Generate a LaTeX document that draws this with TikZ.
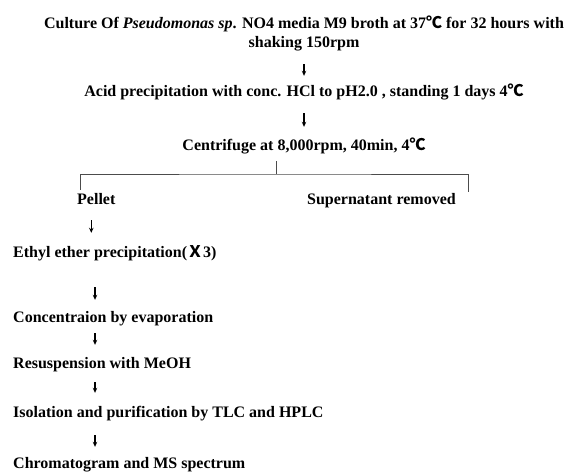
\documentclass[tikz,border=0pt]{standalone}
\usepackage{fontspec}
\setmainfont{Liberation Serif}
\newfontfamily\cjk{Noto Sans CJK SC}
\usetikzlibrary{arrows.meta}
\begin{document}
\begin{tikzpicture}[x=1pt, y=-1pt, every node/.style={font=\fontsize{16}{19}\selectfont\bfseries, inner sep=0pt}]
    \tikzstyle{stage} = [text height=11pt, text depth=4pt, anchor=base]
    \tikzstyle{leftstage} = [stage, anchor=base west]
    \tikzstyle{flow} = [-{Stealth[length=5pt, width=4.5pt]}, line width=1.1pt]
    \tikzstyle{branch} = [draw=black!70, line width=0.7pt]

    \useasboundingbox (0,0) rectangle (568,475);

    % main line
    \node [align=center, anchor=base] (culture) at (304,47.5) {Culture Of \textit{Pseudomonas sp}. NO4 media M9 broth at 37{\cjk ℃} for 32 hours with\\shaking 150rpm};
    \node [stage] (acid) at (304,96.5) {Acid precipitation with conc. HCl to pH2.0 , standing 1 days 4{\cjk ℃}};
    \node [stage] (centrifuge) at (304,150.5) {Centrifuge at 8,000rpm, 40min, 4{\cjk ℃}};

    % split
    \coordinate (split) at (276,174);
    \node [leftstage] (pellet) at (77,204.5) {Pellet};
    \node [leftstage] (supernatant) at (307,204.5) {Supernatant removed};

    % pellet work-up
    \coordinate (lcol) at (95,0);
    \node [leftstage] (ethyl) at (13,257.5) {Ethyl ether precipitation({\cjk Ｘ}3)};
    \node [leftstage] (conc) at (13,322.5) {Concentraion by evaporation};
    \node [leftstage] (resus) at (13,368.5) {Resuspension with MeOH};
    \node [leftstage] (isol) at (13,417.5) {Isolation and purification by TLC and HPLC};
    \node [leftstage] (chrom) at (13,468.5) {Chromatogram and MS spectrum};

    \draw [flow, shorten <=13pt, shorten >=9.5pt] (culture.south) -- (acid.north);
    \draw [flow, shorten <=12.5pt, shorten >=12.5pt] (acid.south) -- (centrifuge.north);

    \draw [branch] ([xshift=-28pt, yshift=-6.5pt]centrifuge.south) -- (split);
    \draw [branch] ([xshift=3pt, yshift=3.5pt]pellet.north west) |- (split) -| ([xshift=12pt, yshift=1.5pt]supernatant.north east);

    \draw [flow, shorten <=11.5pt, shorten >=13.5pt] ([xshift=-5pt]pellet.south) -- ([xshift=-5pt]pellet.south |- ethyl.north);
    \foreach \a/\b/\s/\t in {ethyl/conc/25.5pt/11.5pt, conc/resus/6.5pt/12.5pt, resus/isol/9.5pt/13.5pt, isol/chrom/13.5pt/10.5pt}
        \draw [flow, shorten <=\s, shorten >=\t] (\a.south -| lcol) -- (\b.north -| lcol);
\end{tikzpicture}
\end{document}
